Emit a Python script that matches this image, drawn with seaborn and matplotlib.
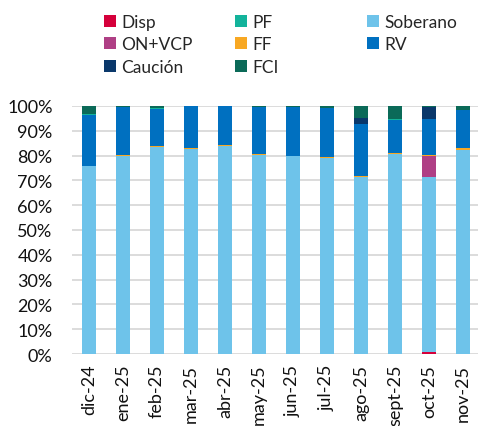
import numpy as np
import pandas as pd
import matplotlib
matplotlib.use("Agg")
import matplotlib.pyplot as plt
import seaborn as sns
from matplotlib.ticker import PercentFormatter
from matplotlib.patches import Patch

months = ["dic-24", "ene-25", "feb-25", "mar-25", "abr-25", "may-25",
          "jun-25", "jul-25", "ago-25", "sept-25", "oct-25", "nov-25"]
disp     = [0, 0, 0, 0, 0, 0, 0, 0, 0, 0, 1.0, 0]
soberano = [75.7, 79.8, 83.6, 82.5, 83.8, 80.2, 79.7, 79.0, 71.5, 80.5, 70.2, 82.3]
on_vcp   = [0, 0, 0, 0, 0, 0, 0, 0, 0, 0, 8.5, 0]
ff       = [0.3, 0.3, 0.3, 0.6, 0.3, 0.3, 0.3, 0.3, 0.4, 0.6, 0.5, 0.6]
rv       = [20.5, 19.6, 14.8, 16.9, 15.9, 19.0, 19.5, 20.0, 20.8, 13.4, 14.5, 15.4]
caucion  = [0, 0, 0, 0, 0, 0, 0, 0, 2.3, 0, 4.7, 0]
pf       = [0.4, 0, 0.3, 0, 0, 0.2, 0, 0, 0, 0.1, 0, 0]
fci      = [3.1, 0.3, 1.0, 0, 0, 0.3, 0.5, 0.7, 5.0, 5.4, 0.6, 1.7]

series = [
    ("Disp", disp, "#D5003B"),
    ("Soberano", soberano, "#6EC3EA"),
    ("ON+VCP", on_vcp, "#AF3F85"),
    ("FF", ff, "#F8A823"),
    ("RV", rv, "#0070C0"),
    ("Caución", caucion, "#0A386B"),
    ("PF", pf, "#13B39B"),
    ("FCI", fci, "#0B6A58"),
]
colors = {name: c for name, _, c in series}

sns.set_theme(style="white")
plt.rcParams["font.family"] = ["Lato", "DejaVu Sans"]

fig = plt.figure(figsize=(4.78, 4.27), dpi=100)
ax = fig.add_axes([72 / 478, 1 - 355 / 427, (480 - 72) / 478, (355 - 107) / 427])

bottom = np.zeros(len(months))
for name, vals, col in series:
    vals = np.array(vals, dtype=float)
    sns.barplot(x=months, y=vals, bottom=bottom, color=col, ax=ax,
                width=0.42, linewidth=0, saturation=1, zorder=3)
    bottom += vals

ax.set_ylim(0, 100)
ax.set_xlim(-0.5, 11.5)
ax.set_yticks(np.arange(0, 101, 10))
ax.yaxis.set_major_formatter(PercentFormatter(100, decimals=0))
ax.grid(axis="y", color="#d9d9d9", linewidth=1.3, zorder=0)
ax.grid(axis="x", visible=False)
for s in ax.spines.values():
    s.set_visible(False)
ax.tick_params(axis="both", length=0, labelsize=13, colors="#111111")
ax.tick_params(axis="y", pad=14)
ax.tick_params(axis="x", pad=7)
plt.setp(ax.get_xticklabels(), rotation=90)
ax.set_xlabel("")
ax.set_ylabel("")

legend_cols = [
    (["Disp", "ON+VCP", "Caución"], 95),
    (["PF", "FF", "FCI"], 226),
    (["Soberano", "RV"], 358),
]
for names, x in legend_cols:
    handles = [Patch(facecolor=colors[n], edgecolor="none", label=n) for n in names]
    fig.legend(handles=handles, loc="upper left",
               bbox_to_anchor=(x / 478, 1 - 6 / 427),
               frameon=False, borderpad=0, handlelength=0.7,
               handleheight=0.7, handletextpad=0.3, labelspacing=0.38,
               fontsize=12.5)

fig.savefig("out.png", dpi=100)
